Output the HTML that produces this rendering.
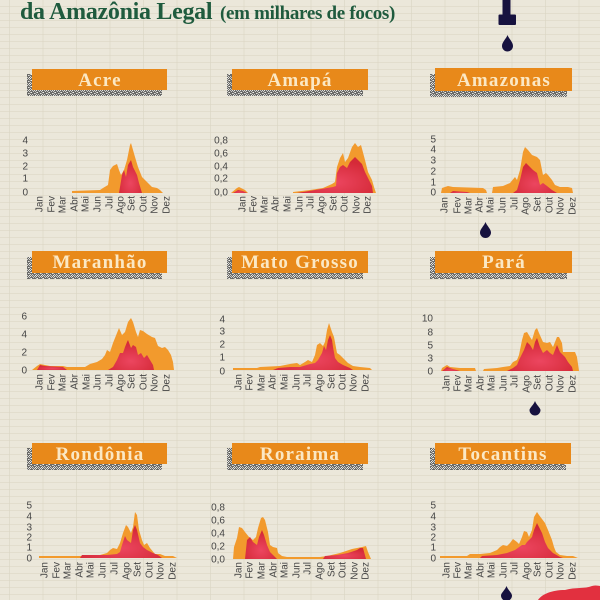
<!DOCTYPE html>
<html>
<head>
<meta charset="utf-8">
<style>
  html,body{margin:0;padding:0;background:#ebe7da;}
  svg{display:block;}
  .tt{font-family:"Liberation Serif",serif;font-weight:bold;}
  .bx{font-family:"Liberation Serif",serif;font-weight:bold;font-size:19px;fill:#fbe8c4;letter-spacing:1.2px;text-anchor:middle;}
  .yl{font-family:"Liberation Sans",sans-serif;font-size:10px;fill:#454545;text-anchor:end;}
  .xl{font-family:"Liberation Sans",sans-serif;font-size:10px;fill:#454545;text-anchor:end;}
  .o{fill:#f29a2d;}
  .r{fill:url(#rg);}
</style>
</head>
<body>
<svg width="600" height="600" viewBox="0 0 600 600" xmlns="http://www.w3.org/2000/svg">
  <defs>
    <pattern id="hgrid" width="600" height="7" patternUnits="userSpaceOnUse">
      <rect width="600" height="7" fill="#ebe7da"/>
      <rect y="6" width="600" height="1" fill="#e2ddcd"/>
    </pattern>
    <pattern id="vgrid" x="9" width="33.5" height="600" patternUnits="userSpaceOnUse">
      <rect width="1" height="600" fill="#d9d4c3"/>
    </pattern>
    <pattern id="noise" width="6" height="6" patternUnits="userSpaceOnUse">
      <rect width="6" height="6" fill="#6a6a68"/>
      <rect x="0" y="0" width="1" height="1" fill="#e8e8e4"/>
      <rect x="3" y="1" width="1" height="1" fill="#d0d0cc"/>
      <rect x="1" y="2" width="1" height="1" fill="#f2f2ee"/>
      <rect x="4" y="3" width="1" height="1" fill="#e0e0dc"/>
      <rect x="2" y="4" width="1" height="1" fill="#cfcfca"/>
      <rect x="5" y="5" width="1" height="1" fill="#ededea"/>
      <rect x="5" y="1" width="1" height="1" fill="#c9c9c5"/>
      <rect x="0" y="4" width="1" height="1" fill="#d8d8d4"/>
      <rect x="3" y="5" width="1" height="1" fill="#bebeba"/>
      <rect x="2" y="0" width="1" height="1" fill="#c8c8c4"/>
      <rect x="4" y="0" width="1" height="1" fill="#dcdcd8"/>
      <rect x="1" y="5" width="1" height="1" fill="#d4d4d0"/>
      <rect x="5" y="3" width="1" height="1" fill="#b0b0ac"/>
      <rect x="0" y="2" width="1" height="1" fill="#b8b8b4"/>
    </pattern>
    <radialGradient id="rg" cx="0.5" cy="0.7" r="0.6">
      <stop offset="0" stop-color="#ec4660"/>
      <stop offset="1" stop-color="#d52a38"/>
    </radialGradient>
  </defs>

  <!-- background -->
  <rect width="600" height="600" fill="url(#hgrid)"/>
  <rect width="600" height="600" fill="url(#vgrid)" opacity="0.6"/>

  <!-- title -->
  <text class="tt" x="20" y="19" font-size="24" fill="#1f5b3e" letter-spacing="-0.3">da Amazônia Legal <tspan font-size="19" dx="2">(em milhares de focos)</tspan></text>

  <!-- dropper & drops -->
  <rect x="502.5" y="0" width="8" height="15" fill="#17123f"/>
  <rect x="498.5" y="14.5" width="17.5" height="10.5" rx="1" fill="#17123f"/>
  <path d="M507.5,35 C509,39 513,42 513,46 A5.5,5.5 0 0 1 502,46 C502,42 506,39 507.5,35 Z" fill="#17123f"/>
  <path d="M485.5,222 C487,226 491,229 491,232.5 A5.5,5.5 0 0 1 480,232.5 C480,229 484,226 485.5,222 Z" fill="#17123f"/>
  <path d="M535,401 C536.5,405 540.5,408 540.5,410 A5.5,5.5 0 0 1 529.5,410 C529.5,408 533.5,405 535,401 Z" fill="#17123f"/>
  <path d="M506.5,586 C508,590 512,593 512,595.5 A5.5,5.5 0 0 1 501,595.5 C501,593 505,590 506.5,586 Z" fill="#17123f"/>
  <path d="M538,600 C542,594 552,590 565,590 C575,587 585,589 592,586 C596,585 599,586 600,586 L600,600 Z" fill="#e2303f"/>

  <!-- ================= ROW 0 ================= -->
  <!-- Acre -->
  <rect x="27" y="74" width="135" height="22" fill="url(#noise)"/>
  <rect x="32" y="69" width="135" height="21" fill="#e8891a"/>
  <text class="bx" x="100" y="86">Acre</text>
  <g class="yl">
    <text x="28" y="143.5">4</text><text x="28" y="156.5">3</text><text x="28" y="169.5">2</text><text x="28" y="181.5">1</text><text x="28" y="195.5">0</text>
  </g>
  <path class="o" d="M72,193 L72,191 L100,190 L103,188 L108,185 L110,170 L113,166 L117,164 L119,170 L121,175 L124,170 L127,160 L130,145 L131,143 L135,157 L138,167 L142,177 L147,182 L152,187 L157,188 L160,190 L163,193 Z"/>
  <path class="r" d="M119,193 L122,175 L124,170 L126,177 L128,165 L131,160 L133,167 L137,175 L139,183 L142,193 Z"/>
  <g class="xl">
    <text transform="translate(39,196) rotate(-90)" dy="0.35em">Jan</text>
    <text transform="translate(51,196) rotate(-90)" dy="0.35em">Fev</text>
    <text transform="translate(62,196) rotate(-90)" dy="0.35em">Mar</text>
    <text transform="translate(74,196) rotate(-90)" dy="0.35em">Abr</text>
    <text transform="translate(85,196) rotate(-90)" dy="0.35em">Mai</text>
    <text transform="translate(97,196) rotate(-90)" dy="0.35em">Jun</text>
    <text transform="translate(109,196) rotate(-90)" dy="0.35em">Jul</text>
    <text transform="translate(120,196) rotate(-90)" dy="0.35em">Ago</text>
    <text transform="translate(131,196) rotate(-90)" dy="0.35em">Set</text>
    <text transform="translate(143,196) rotate(-90)" dy="0.35em">Out</text>
    <text transform="translate(154,196) rotate(-90)" dy="0.35em">Nov</text>
    <text transform="translate(166,196) rotate(-90)" dy="0.35em">Dez</text>
  </g>

  <!-- Amapá -->
  <rect x="227" y="74" width="136" height="22" fill="url(#noise)"/>
  <rect x="232" y="69" width="136" height="21" fill="#e8891a"/>
  <text class="bx" x="300" y="86">Amapá</text>
  <g class="yl">
    <text x="228" y="143.5">0,8</text><text x="228" y="156.5">0,6</text><text x="228" y="169.5">0,4</text><text x="228" y="181.5">0,2</text><text x="228" y="195.5">0,0</text>
  </g>
  <path class="o" d="M231,193 L237,188 L239,187 L245,190 L248,193 Z"/>
  <path class="o" d="M293,193 L293,192 L310,190 L323,188 L332,184 L335,182 L337,167 L340,158 L343,153 L345,162 L348,158 L352,147 L355,143 L358,147 L361,145 L365,160 L368,172 L372,180 L374,187 L376,193 Z"/>
  <path class="r" d="M233,193 L238,190 L243,191 L247,193 Z"/>
  <path class="r" d="M297,193 L333,187 L336,186 L337,173 L340,167 L343,165 L347,168 L350,162 L355,157 L358,160 L362,164 L365,172 L368,178 L372,186 L373,193 Z"/>
  <g class="xl">
    <text transform="translate(242,196) rotate(-90)" dy="0.35em">Jan</text>
    <text transform="translate(253,196) rotate(-90)" dy="0.35em">Fev</text>
    <text transform="translate(264,196) rotate(-90)" dy="0.35em">Mar</text>
    <text transform="translate(275,196) rotate(-90)" dy="0.35em">Abr</text>
    <text transform="translate(287,196) rotate(-90)" dy="0.35em">Mai</text>
    <text transform="translate(299,196) rotate(-90)" dy="0.35em">Jun</text>
    <text transform="translate(310,196) rotate(-90)" dy="0.35em">Jul</text>
    <text transform="translate(321,196) rotate(-90)" dy="0.35em">Ago</text>
    <text transform="translate(333,196) rotate(-90)" dy="0.35em">Set</text>
    <text transform="translate(344,196) rotate(-90)" dy="0.35em">Out</text>
    <text transform="translate(356,196) rotate(-90)" dy="0.35em">Nov</text>
    <text transform="translate(367,196) rotate(-90)" dy="0.35em">Dez</text>
  </g>

  <!-- Amazonas -->
  <rect x="430" y="74" width="137" height="23" fill="url(#noise)"/>
  <rect x="435" y="68" width="137" height="23" fill="#e8891a"/>
  <text class="bx" x="504" y="86">Amazonas</text>
  <g class="yl">
    <text x="436" y="142.5">5</text><text x="436" y="152.5">4</text><text x="436" y="163.5">3</text><text x="436" y="174.5">2</text><text x="436" y="185.5">1</text><text x="436" y="195.5">0</text>
  </g>
  <path class="o" d="M441,193 L442,188 L448,186 L453,187 L483,188 L486,190 L487,193 Z"/>
  <path class="o" d="M492,193 L493,187 L503,186 L510,183 L515,177 L517,180 L520,170 L523,152 L525,147 L528,150 L532,155 L537,157 L540,160 L542,170 L543,175 L546,173 L548,175 L552,180 L555,185 L560,187 L568,187 L572,188 L573,193 Z"/>
  <path class="r" d="M450,193 L453,191 L467,192 L470,193 Z"/>
  <path class="r" d="M513,193 L517,190 L520,180 L523,167 L526,163 L530,167 L533,170 L537,173 L540,185 L543,183 L547,186 L552,190 L557,193 Z"/>
  <g class="xl">
    <text transform="translate(444,197) rotate(-90)" dy="0.35em">Jan</text>
    <text transform="translate(457,197) rotate(-90)" dy="0.35em">Fev</text>
    <text transform="translate(468,197) rotate(-90)" dy="0.35em">Mar</text>
    <text transform="translate(479,197) rotate(-90)" dy="0.35em">Abr</text>
    <text transform="translate(490,197) rotate(-90)" dy="0.35em">Mai</text>
    <text transform="translate(502,197) rotate(-90)" dy="0.35em">Jun</text>
    <text transform="translate(514,197) rotate(-90)" dy="0.35em">Jul</text>
    <text transform="translate(525,197) rotate(-90)" dy="0.35em">Ago</text>
    <text transform="translate(537,197) rotate(-90)" dy="0.35em">Set</text>
    <text transform="translate(549,197) rotate(-90)" dy="0.35em">Out</text>
    <text transform="translate(560,197) rotate(-90)" dy="0.35em">Nov</text>
    <text transform="translate(572,197) rotate(-90)" dy="0.35em">Dez</text>
  </g>

  <!-- ================= ROW 1 ================= -->
  <!-- Maranhão -->
  <rect x="27" y="257" width="135" height="22" fill="url(#noise)"/>
  <rect x="32" y="251" width="135" height="22" fill="#e8891a"/>
  <text class="bx" x="100" y="268">Maranhão</text>
  <g class="yl">
    <text x="27" y="319.5">6</text><text x="27" y="337.5">4</text><text x="27" y="355.5">2</text><text x="27" y="373.5">0</text>
  </g>
  <path class="o" d="M32,370 L37,366 L40,364 L45,365 L50,366 L63,366 L67,367 L85,367 L90,364 L97,362 L102,359 L105,355 L107,350 L110,352 L113,343 L117,333 L119,328 L122,335 L125,332 L128,322 L131,318 L133,322 L136,332 L138,337 L140,330 L143,331 L147,334 L152,337 L155,338 L158,346 L162,348 L165,347 L168,350 L171,355 L173,362 L174,370 Z"/>
  <path class="r" d="M37,370 L40,365 L45,366 L63,367 L67,370 Z"/>
  <path class="r" d="M108,370 L113,367 L117,360 L120,353 L123,353 L125,347 L127,342 L128,340 L131,348 L133,345 L136,347 L138,355 L141,353 L144,358 L147,355 L150,360 L153,365 L154,370 Z"/>
  <g class="xl">
    <text transform="translate(39,374) rotate(-90)" dy="0.35em">Jan</text>
    <text transform="translate(51,374) rotate(-90)" dy="0.35em">Fev</text>
    <text transform="translate(62,374) rotate(-90)" dy="0.35em">Mar</text>
    <text transform="translate(74,374) rotate(-90)" dy="0.35em">Abr</text>
    <text transform="translate(86,374) rotate(-90)" dy="0.35em">Mai</text>
    <text transform="translate(97,374) rotate(-90)" dy="0.35em">Jun</text>
    <text transform="translate(109,374) rotate(-90)" dy="0.35em">Jul</text>
    <text transform="translate(120,374) rotate(-90)" dy="0.35em">Ago</text>
    <text transform="translate(131,374) rotate(-90)" dy="0.35em">Set</text>
    <text transform="translate(143,374) rotate(-90)" dy="0.35em">Out</text>
    <text transform="translate(154,374) rotate(-90)" dy="0.35em">Nov</text>
    <text transform="translate(166,374) rotate(-90)" dy="0.35em">Dez</text>
  </g>

  <!-- Mato Grosso -->
  <rect x="227" y="257" width="136" height="22" fill="url(#noise)"/>
  <rect x="232" y="251" width="136" height="22" fill="#e8891a"/>
  <text class="bx" x="300" y="268">Mato Grosso</text>
  <g class="yl">
    <text x="225" y="322.5">4</text><text x="225" y="334.5">3</text><text x="225" y="347.5">2</text><text x="225" y="360.5">1</text><text x="225" y="374.5">0</text>
  </g>
  <path class="o" d="M233,370 L233,368 L257,368 L260,367 L280,366 L290,364 L297,363 L300,365 L305,362 L308,360 L312,362 L315,355 L317,345 L320,343 L323,346 L325,342 L327,330 L329,323 L332,332 L334,337 L337,353 L340,355 L343,358 L348,363 L353,366 L360,367 L370,368 L372,370 Z"/>
  <path class="r" d="M273,370 L278,368 L290,367 L300,367 L310,364 L315,363 L318,360 L322,353 L324,346 L326,350 L328,340 L330,335 L332,340 L333,347 L335,358 L338,362 L343,365 L350,368 L353,370 Z"/>
  <g class="xl">
    <text transform="translate(238,374) rotate(-90)" dy="0.35em">Jan</text>
    <text transform="translate(249,374) rotate(-90)" dy="0.35em">Fev</text>
    <text transform="translate(261,374) rotate(-90)" dy="0.35em">Mar</text>
    <text transform="translate(272,374) rotate(-90)" dy="0.35em">Abr</text>
    <text transform="translate(284,374) rotate(-90)" dy="0.35em">Mai</text>
    <text transform="translate(296,374) rotate(-90)" dy="0.35em">Jun</text>
    <text transform="translate(307,374) rotate(-90)" dy="0.35em">Jul</text>
    <text transform="translate(319,374) rotate(-90)" dy="0.35em">Ago</text>
    <text transform="translate(331,374) rotate(-90)" dy="0.35em">Set</text>
    <text transform="translate(342,374) rotate(-90)" dy="0.35em">Out</text>
    <text transform="translate(353,374) rotate(-90)" dy="0.35em">Nov</text>
    <text transform="translate(365,374) rotate(-90)" dy="0.35em">Dez</text>
  </g>

  <!-- Pará -->
  <rect x="430" y="257" width="137" height="22" fill="url(#noise)"/>
  <rect x="435" y="251" width="137" height="22" fill="#e8891a"/>
  <text class="bx" x="504" y="268">Pará</text>
  <g class="yl">
    <text x="433" y="321.5">10</text><text x="433" y="335.5">8</text><text x="433" y="348.5">5</text><text x="433" y="361.5">3</text><text x="433" y="374.5">0</text>
  </g>
  <path class="o" d="M441,371 L442,368 L447,365 L450,367 L460,368 L475,368 L476,371 Z"/>
  <path class="o" d="M483,371 L484,369 L497,368 L503,367 L510,366 L513,362 L517,360 L519,355 L522,340 L524,333 L527,332 L530,337 L532,340 L535,330 L537,328 L539,333 L543,342 L547,343 L550,342 L553,347 L557,337 L559,337 L562,343 L563,352 L575,352 L577,357 L579,371 Z"/>
  <path class="r" d="M442,371 L447,367 L453,369 L460,371 Z"/>
  <path class="r" d="M507,371 L513,368 L517,365 L519,360 L524,350 L527,342 L530,345 L533,350 L535,342 L537,338 L540,347 L543,353 L547,350 L550,353 L553,355 L557,345 L560,352 L565,357 L568,362 L572,367 L573,371 Z"/>
  <g class="xl">
    <text transform="translate(446,375) rotate(-90)" dy="0.35em">Jan</text>
    <text transform="translate(457,375) rotate(-90)" dy="0.35em">Fev</text>
    <text transform="translate(468,375) rotate(-90)" dy="0.35em">Mar</text>
    <text transform="translate(480,375) rotate(-90)" dy="0.35em">Abr</text>
    <text transform="translate(491,375) rotate(-90)" dy="0.35em">Mai</text>
    <text transform="translate(503,375) rotate(-90)" dy="0.35em">Jun</text>
    <text transform="translate(514,375) rotate(-90)" dy="0.35em">Jul</text>
    <text transform="translate(526,375) rotate(-90)" dy="0.35em">Ago</text>
    <text transform="translate(537,375) rotate(-90)" dy="0.35em">Set</text>
    <text transform="translate(549,375) rotate(-90)" dy="0.35em">Out</text>
    <text transform="translate(560,375) rotate(-90)" dy="0.35em">Nov</text>
    <text transform="translate(572,375) rotate(-90)" dy="0.35em">Dez</text>
  </g>

  <!-- ================= ROW 2 ================= -->
  <!-- Rondônia -->
  <rect x="27" y="448" width="135" height="22" fill="url(#noise)"/>
  <rect x="32" y="443" width="135" height="21" fill="#e8891a"/>
  <text class="bx" x="100" y="460">Rondônia</text>
  <g class="yl">
    <text x="32" y="508.5">5</text><text x="32" y="519.5">4</text><text x="32" y="530.5">3</text><text x="32" y="540.5">2</text><text x="32" y="550.5">1</text><text x="32" y="561.5">0</text>
  </g>
  <path class="o" d="M39,558 L39,556 L80,556 L100,555 L107,553 L110,550 L113,548 L117,549 L120,543 L123,533 L126,525 L128,527 L131,533 L133,527 L135,512 L137,515 L139,530 L142,540 L144,545 L147,543 L150,548 L155,554 L160,554 L165,556 L173,556 L177,558 Z"/>
  <path class="r" d="M80,558 L82,555 L107,555 L117,554 L120,552 L122,545 L125,536 L127,540 L131,543 L133,530 L135,525 L137,530 L140,543 L143,547 L147,550 L153,553 L158,555 L162,558 Z"/>
  <g class="xl">
    <text transform="translate(44,562) rotate(-90)" dy="0.35em">Jan</text>
    <text transform="translate(56,562) rotate(-90)" dy="0.35em">Fev</text>
    <text transform="translate(67,562) rotate(-90)" dy="0.35em">Mar</text>
    <text transform="translate(79,562) rotate(-90)" dy="0.35em">Abr</text>
    <text transform="translate(90,562) rotate(-90)" dy="0.35em">Mai</text>
    <text transform="translate(102,562) rotate(-90)" dy="0.35em">Jun</text>
    <text transform="translate(114,562) rotate(-90)" dy="0.35em">Jul</text>
    <text transform="translate(126,562) rotate(-90)" dy="0.35em">Ago</text>
    <text transform="translate(137,562) rotate(-90)" dy="0.35em">Set</text>
    <text transform="translate(149,562) rotate(-90)" dy="0.35em">Out</text>
    <text transform="translate(160,562) rotate(-90)" dy="0.35em">Nov</text>
    <text transform="translate(172,562) rotate(-90)" dy="0.35em">Dez</text>
  </g>

  <!-- Roraima -->
  <rect x="227" y="448" width="136" height="22" fill="url(#noise)"/>
  <rect x="232" y="443" width="136" height="21" fill="#e8891a"/>
  <text class="bx" x="300" y="460">Roraima</text>
  <g class="yl">
    <text x="225" y="510.5">0,8</text><text x="225" y="523.5">0,6</text><text x="225" y="536.5">0,4</text><text x="225" y="549.5">0,2</text><text x="225" y="562.5">0,0</text>
  </g>
  <path class="o" d="M233,559 L234,547 L237,538 L239,527 L242,528 L245,532 L249,537 L253,540 L256,537 L258,528 L261,518 L263,517 L265,520 L267,528 L268,532 L270,545 L273,547 L277,548 L278,553 L282,556 L287,557 L320,557 L327,556 L340,553 L352,549 L357,548 L362,547 L366,546 L368,552 L371,559 Z"/>
  <path class="r" d="M245,559 L247,540 L250,537 L253,542 L257,545 L259,537 L262,530 L264,535 L267,545 L270,552 L273,555 L277,559 Z"/>
  <path class="r" d="M323,559 L325,556 L337,555 L348,553 L357,550 L360,548 L363,548 L366,559 Z"/>
  <g class="xl">
    <text transform="translate(238,562) rotate(-90)" dy="0.35em">Jan</text>
    <text transform="translate(249,562) rotate(-90)" dy="0.35em">Fev</text>
    <text transform="translate(261,562) rotate(-90)" dy="0.35em">Mar</text>
    <text transform="translate(273,562) rotate(-90)" dy="0.35em">Abr</text>
    <text transform="translate(284,562) rotate(-90)" dy="0.35em">Mai</text>
    <text transform="translate(296,562) rotate(-90)" dy="0.35em">Jun</text>
    <text transform="translate(307,562) rotate(-90)" dy="0.35em">Jul</text>
    <text transform="translate(319,562) rotate(-90)" dy="0.35em">Ago</text>
    <text transform="translate(331,562) rotate(-90)" dy="0.35em">Set</text>
    <text transform="translate(342,562) rotate(-90)" dy="0.35em">Out</text>
    <text transform="translate(354,562) rotate(-90)" dy="0.35em">Nov</text>
    <text transform="translate(365,562) rotate(-90)" dy="0.35em">Dez</text>
  </g>

  <!-- Tocantins -->
  <rect x="430" y="448" width="136" height="22" fill="url(#noise)"/>
  <rect x="435" y="443" width="136" height="21" fill="#e8891a"/>
  <text class="bx" x="503" y="460">Tocantins</text>
  <g class="yl">
    <text x="436" y="508.5">5</text><text x="436" y="519.5">4</text><text x="436" y="530.5">3</text><text x="436" y="540.5">2</text><text x="436" y="550.5">1</text><text x="436" y="561.5">0</text>
  </g>
  <path class="o" d="M440,558 L440,556 L467,556 L470,554 L480,554 L490,553 L497,550 L500,547 L503,545 L507,546 L510,543 L513,539 L517,542 L519,544 L522,537 L524,531 L527,532 L529,537 L532,530 L534,517 L537,512 L539,515 L542,519 L545,523 L548,530 L552,540 L554,547 L556,552 L560,555 L567,556 L573,556 L578,558 Z"/>
  <path class="r" d="M480,558 L482,556 L497,555 L507,553 L515,550 L522,545 L525,545 L527,542 L532,537 L534,530 L537,523 L539,527 L542,533 L545,542 L548,548 L553,553 L560,557 L563,558 Z"/>
  <g class="xl">
    <text transform="translate(446,562) rotate(-90)" dy="0.35em">Jan</text>
    <text transform="translate(457,562) rotate(-90)" dy="0.35em">Fev</text>
    <text transform="translate(468,562) rotate(-90)" dy="0.35em">Mar</text>
    <text transform="translate(480,562) rotate(-90)" dy="0.35em">Abr</text>
    <text transform="translate(491,562) rotate(-90)" dy="0.35em">Mai</text>
    <text transform="translate(503,562) rotate(-90)" dy="0.35em">Jun</text>
    <text transform="translate(514,562) rotate(-90)" dy="0.35em">Jul</text>
    <text transform="translate(526,562) rotate(-90)" dy="0.35em">Ago</text>
    <text transform="translate(537,562) rotate(-90)" dy="0.35em">Set</text>
    <text transform="translate(549,562) rotate(-90)" dy="0.35em">Out</text>
    <text transform="translate(560,562) rotate(-90)" dy="0.35em">Nov</text>
    <text transform="translate(572,562) rotate(-90)" dy="0.35em">Dez</text>
  </g>
</svg>
</body>
</html>
